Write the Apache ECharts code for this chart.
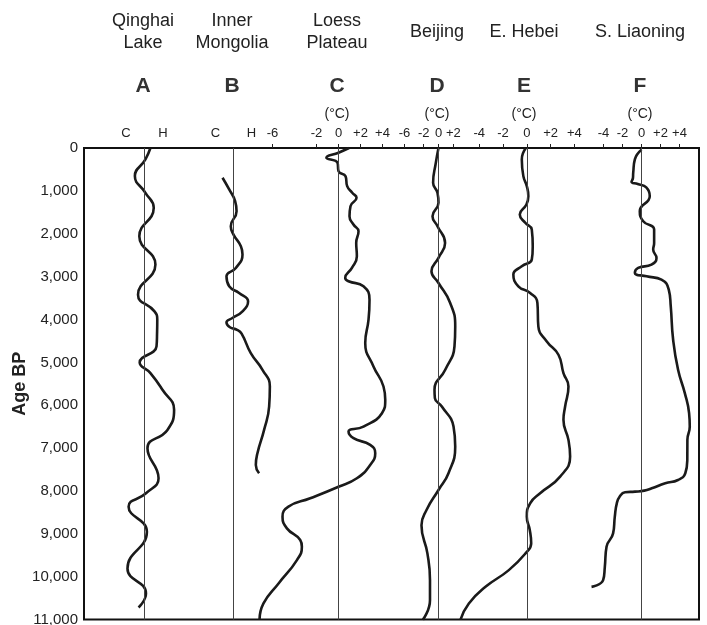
<!DOCTYPE html>
<html>
<head>
<meta charset="utf-8">
<script src="https://cdn.jsdelivr.net/npm/echarts@6/dist/echarts.min.js"></script>
<style>
  html, body { margin: 0; padding: 0; background: #fff; }
  #chart { width: 707px; height: 625px; }
</style>
</head>
<body>
<div id="chart"></div>
<script>
// Holocene temperature records of northern China, ages in years BP.
// Each site: ages (years BP) and the departure from today (index for A/B, °C for C–F).

const qinghaiAge = [0, 266, 656, 1045, 1396, 2058, 2720, 3421, 3810, 4000, 4300, 4628, 5002, 5250, 5640, 6107, 6575, 7003, 7703, 8054, 8366, 8950, 9806, 10390, 10718];
const qinghaiVal = [0.32, 0.05, -0.52, 0.05, 0.50, -0.28, 0.59, -0.35, 0.54, 0.69, 0.68, 0.65, -0.26, 0.32, 0.97, 1.60, 1.24, 0.16, 0.76, 0.08, -0.86, 0.13, -0.92, 0.08, -0.32];

const mongoliaAge = [695, 967, 1240, 1474, 1825, 2019, 2292, 2486, 2797, 2993, 3227, 3381, 3577, 3811, 3965, 4068, 4180, 4240, 4330, 4783, 5173, 5563, 6030, 6575, 7119, 7393, 7587];
const mongoliaVal = [-0.61, -0.24, 0.09, 0.17, -0.15, 0.0, 0.41, 0.50, 0.13, -0.39, -0.24, 0.31, 0.81, 0.50, -0.06, -0.39, -0.20, 0.20, 0.45, 0.96, 1.61, 2.02, 1.98, 1.70, 1.33, 1.24, 1.42];

const loessAge = [0, 110, 227, 344, 540, 657, 890, 1044, 1161, 1357, 1591, 1785, 1941, 2214, 2525, 2797, 3030, 3109, 3226, 3537, 4005, 4549, 5096, 5563, 5874, 6185, 6497, 6614, 6769, 6925, 7119, 7393, 7703, 7900, 8171, 8366, 8600, 8872, 9145, 9301, 9612, 10157, 10624, 11000];
const loessVal = [0.96, 0.0, -1.1, -0.09, 0.0, 0.64, 0.79, 1.25, 1.64, 1.09, 1.0, 1.36, 1.82, 1.61, 1.67, 1.22, 0.61, 0.91, 2.27, 2.82, 2.73, 2.43, 3.18, 4.09, 4.25, 3.95, 2.27, 0.91, 1.36, 2.88, 3.34, 2.88, 1.67, 0.0, -2.57, -4.55, -5.09, -4.69, -3.48, -3.33, -3.78, -5.45, -6.82, -7.18];

const beijingAge = [0, 344, 811, 1045, 1278, 1591, 1825, 2214, 2564, 2876, 3148, 3614, 4161, 4628, 5173, 5640, 5834, 6030, 6497, 6964, 7587, 7977, 8444, 8800, 9456, 10079, 10546, 11000];
const beijingVal = [0.0, -0.36, -0.73, -0.14, 0.0, -0.81, -0.14, 0.89, 0.0, -0.95, 0.0, 1.58, 2.26, 2.16, 0.91, -0.54, -0.49, 0.45, 2.03, 2.26, 1.35, 0.0, -1.62, -2.3, -1.5, -1.15, -1.15, -2.1];

const hebeiAge = [0, 266, 656, 890, 1124, 1318, 1551, 1745, 1902, 2292, 2603, 2759, 2953, 3227, 3381, 3614, 4161, 4511, 4822, 5250, 5563, 6030, 6341, 6808, 7198, 7665, 8054, 8288, 8600, 8911, 9222, 9456, 9846, 10236, 10624, 11000];
const hebeiVal = [-0.08, -0.42, -0.29, 0.0, 0.13, -0.03, -0.59, -0.13, 0.42, 0.50, 0.42, -0.42, -1.13, -0.71, 0.28, 0.89, 0.97, 1.68, 2.66, 3.08, 3.50, 3.22, 3.08, 3.50, 3.64, 2.80, 1.12, 0.28, 0.0, 0.25, 0.37, -0.11, -1.51, -3.47, -4.87, -5.57];

const liaoningAge = [40, 266, 577, 700, 790, 840, 920, 1124, 1474, 1708, 1902, 2214, 2370, 2564, 2720, 2797, 2914, 2993, 3070, 3303, 3694, 4473, 5173, 5718, 6185, 6497, 6808, 7276, 7587, 7743, 7820, 7937, 7992, 8016, 8031, 8117, 8288, 8600, 8989, 9301, 9768, 10079, 10236];
const liaoningVal = [0.0, -0.7, -0.87, -0.9, -1.05, -0.4, 0.5, 0.87, -0.18, 0.18, 1.33, 1.33, 1.23, 1.58, 1.05, -0.35, -0.7, 0.53, 2.1, 2.87, 3.08, 3.33, 3.85, 4.56, 5.01, 5.08, 4.83, 4.82, 4.61, 3.84, 2.5, 1.08, 0.29, -0.69, -1.74, -2.26, -2.6, -2.81, -2.99, -3.68, -3.86, -4.04, -5.26];

// Column headings
const siteNames = ['Qinghai\nLake', 'Inner\nMongolia', 'Loess\nPlateau', 'Beijing', 'E. Hebei', 'S. Liaoning'];
const siteLetters = ['A', 'B', 'C', 'D', 'E', 'F'];
const siteUnits = ['', '', '(°C)', '(°C)', '(°C)', '(°C)'];

// Scale ticks along the top edge
const tickValuesA = [-1, 1];
const tickLabelsA = ['C', 'H'];
const tickValuesB = [-1, 1];
const tickLabelsB = ['C', 'H'];
const tickValuesC = [-6, -2, 0, 2, 4, 6];
const tickLabelsC = ['-6', '-2', '0', '+2', '+4', '-6'];
const tickValuesD = [-2, 0, 2];
const tickLabelsD = ['-2', '0', '+2'];
const tickValuesE = [-4, -2, 0, 2, 4];
const tickLabelsE = ['-4', '-2', '0', '+2', '+4'];
const tickValuesF = [-4, -2, 0, 2, 4];
const tickLabelsF = ['-4', '-2', '0', '+2', '+4'];

// Age axis
const ageMin = 0, ageMax = 11000, ageStep = 1000;

// ---- layout ----
const W = 707, H = 625;
const plotLeft = 84, plotRight = 699, plotTop = 148, plotBottom = 619.6;
const FONT = '"Liberation Sans", Arial, Helvetica, sans-serif';
const INK = '#1a1a1a';

// where each column's zero line sits and how many pixels one unit spans
const columns = [
  { zero: 144.5, ppu: 18.5, ticks: tickValuesA, labels: tickLabelsA, showTick: false, age: qinghaiAge, val: qinghaiVal },
  { zero: 233.5, ppu: 18.0, ticks: tickValuesB, labels: tickLabelsB, showTick: false, age: mongoliaAge, val: mongoliaVal },
  { zero: 338.5, ppu: 11.0, ticks: tickValuesC, labels: tickLabelsC, showTick: true, age: loessAge, val: loessVal },
  { zero: 438.5, ppu: 7.4, ticks: tickValuesD, labels: tickLabelsD, showTick: true, age: beijingAge, val: beijingVal },
  { zero: 526.8, ppu: 11.9, ticks: tickValuesE, labels: tickLabelsE, showTick: true, age: hebeiAge, val: hebeiVal },
  { zero: 641.5, ppu: 9.5, ticks: tickValuesF, labels: tickLabelsF, showTick: true, age: liaoningAge, val: liaoningVal }
];
const headingX = [143, 232, 337, 437, 524, 640];

const xAxes = columns.map(function (c) {
  return {
    type: 'value',
    gridIndex: 0,
    position: 'top',
    min: (plotLeft - c.zero) / c.ppu,
    max: (plotRight - c.zero) / c.ppu,
    axisLine: { show: false, onZero: false },
    splitLine: { show: false },
    axisTick: {
      show: c.showTick,
      length: 4,
      customValues: c.ticks,
      lineStyle: { color: '#222', width: 1 }
    },
    axisLabel: {
      customValues: c.ticks,
      margin: 8,
      fontSize: 13,
      fontFamily: FONT,
      color: '#222',
      formatter: function (v) {
        const i = c.ticks.indexOf(v);
        return i >= 0 ? c.labels[i] : '';
      }
    }
  };
});

const series = columns.map(function (c, i) {
  return {
    type: 'line',
    xAxisIndex: i,
    yAxisIndex: 0,
    data: c.age.map(function (a, k) { return [c.val[k], a]; }),
    showSymbol: false,
    smooth: 0.5,
    lineStyle: { color: INK, width: 2.6 },
    markLine: {
      silent: true,
      symbol: ['none', 'none'],
      label: { show: false },
      lineStyle: { type: 'solid', color: '#444', width: 1 },
      data: [{ xAxis: 0 }]
    }
  };
});

const graphics = [];
siteNames.forEach(function (name, i) {
  graphics.push({
    type: 'text', x: headingX[i], y: 32,
    style: { text: name, fill: '#222', font: '18px ' + FONT, align: 'center', verticalAlign: 'middle', lineHeight: 22 }
  });
  graphics.push({
    type: 'text', x: headingX[i], y: 86,
    style: { text: siteLetters[i], fill: '#333', font: 'bold 21px ' + FONT, align: 'center', verticalAlign: 'middle' }
  });
  if (siteUnits[i]) {
    graphics.push({
      type: 'text', x: headingX[i], y: 114,
      style: { text: siteUnits[i], fill: '#222', font: '14px ' + FONT, align: 'center', verticalAlign: 'middle' }
    });
  }
});

const option = {
  animation: false,
  backgroundColor: '#fff',
  grid: {
    left: plotLeft,
    top: plotTop,
    right: W - plotRight,
    bottom: H - plotBottom,
    containLabel: false,
    outerBoundsMode: 'none',
    show: true,
    borderColor: '#111',
    borderWidth: 2,
    backgroundColor: 'transparent'
  },
  xAxis: xAxes,
  yAxis: {
    type: 'value',
    inverse: true,
    min: ageMin,
    max: ageMax,
    interval: ageStep,
    name: 'Age BP',
    nameLocation: 'middle',
    nameRotate: 90,
    nameGap: 55,
    nameMoveOverlap: false,
    nameTextStyle: { fontSize: 18, fontWeight: 'bold', fontFamily: FONT, color: '#222' },
    axisLine: { show: false, onZero: false },
    axisTick: { show: false },
    splitLine: { show: false },
    axisLabel: {
      margin: 6,
      fontSize: 15,
      fontFamily: FONT,
      color: '#222',
      formatter: function (v) { return v.toLocaleString('en-US'); }
    }
  },
  graphic: graphics,
  series: series
};

const chart = echarts.init(document.getElementById('chart'), null, { renderer: 'canvas' });
chart.setOption(option);
</script>
</body>
</html>
